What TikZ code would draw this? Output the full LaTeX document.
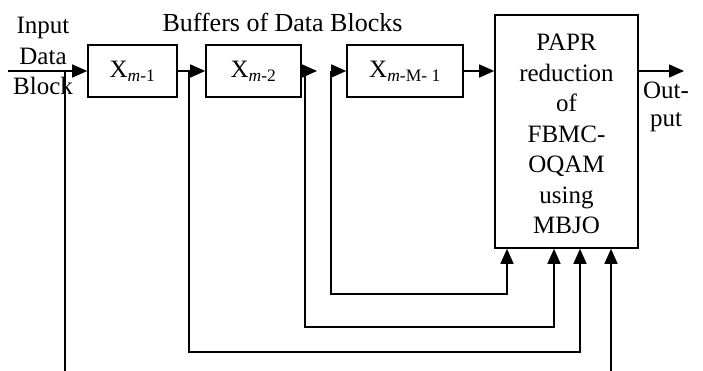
\documentclass[tikz,border=0pt]{standalone}
\usepackage{fontspec}
\setmainfont{Liberation Serif}
\usetikzlibrary{arrows.meta}
\begin{document}
\begin{tikzpicture}[x=1pt,y=-1pt,
  blk/.style={draw,line width=1.6pt,inner sep=0pt,font=\fontsize{25}{30}\selectfont},
  arr/.style={line width=1.5pt,-{Triangle[length=15pt,width=13pt]}},
  ln/.style={line width=1.5pt},
  txt/.style={inner sep=0pt,align=center,font=\fontsize{25}{30.5}\selectfont}]
\useasboundingbox (0,0) rectangle (703,371);
% boxes
\node[blk,minimum width=89pt,minimum height=52pt] (b1) at (132.5,71) {X\textsubscript{\textit{m}-1}};
\node[blk,minimum width=95pt,minimum height=52pt] (b2) at (253.5,71) {X\textsubscript{\textit{m}-2}};
\node[blk,minimum width=116pt,minimum height=52pt] (b3) at (405,71) {X\textsubscript{\textit{m}-M- 1}};
\node[blk,minimum width=143pt,minimum height=233pt] (big) at (566.5,131.5) {};
\node[txt,anchor=north] (bigtxt) at (566.5,34) {PAPR\\reduction\\of\\FBMC-\\OQAM\\using\\MBJO};
% labels
\node[txt,anchor=north] (inlbl) at (43,17) {Input\\Data\\Block};
\node[txt,anchor=north,font=\fontsize{26}{30}\selectfont] (title) at (282.5,13) {Buffers of Data Blocks};
\node[txt,anchor=north,font=\fontsize{25}{28}\selectfont] (outlbl) at (666,82) {Out-\\put};
% coordinates
\coordinate (in) at (8,71);
\coordinate (t0) at (65,71);
\coordinate (t0e) at (65,371);
\coordinate (t1) at (189,71);
\coordinate (t1c) at (189,352);
\coordinate (t1d) at (580,352);
\coordinate (e2) at (317,71);
\coordinate (t2) at (305,71);
\coordinate (t2c) at (305,327);
\coordinate (t2d) at (554,327);
\coordinate (s3) at (331,71);
\coordinate (s3c) at (331,294);
\coordinate (s3d) at (507,294);
\coordinate (out) at (684,71);
\coordinate (ext) at (611,371);
% connectors
\draw[arr] (in) -- (b1.west);
\draw[ln] (t0) -- (t0e);
\draw[arr] (b1.east) -- (b2.west);
\draw[arr] (t1) -- (t1c) -- (t1d) -- (t1d |- big.south);
\draw[arr] (b2.east) -- (e2);
\draw[arr] (t2) -- (t2c) -- (t2d) -- (t2d |- big.south);
\draw[arr] (s3) -- (b3.west);
\draw[arr] (s3) -- (s3c) -- (s3d) -- (s3d |- big.south);
\draw[arr] (b3.east) -- (b3.east -| big.west);
\draw[arr] (b3.east -| big.east) -- (out);
\draw[arr] (ext) -- (ext |- big.south);
\end{tikzpicture}
\end{document}
